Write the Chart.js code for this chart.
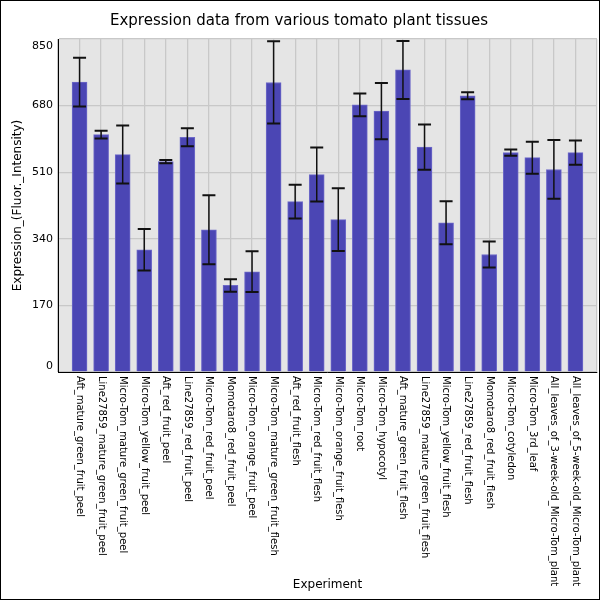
<!DOCTYPE html>
<html>
<head>
<meta charset="utf-8">
<title>Expression data from various tomato plant tissues</title>
<script src="https://cdn.jsdelivr.net/npm/chart.js@4.4.1/dist/chart.umd.min.js"></script>
<style>
    html, body { margin: 0; padding: 0; background: #fff; }
    #wrap { width: 600px; height: 600px; border: 1px solid #000; box-sizing: border-box; }
    #chart { display: block; }
</style>
</head>
<body>
<div id="wrap"><canvas id="chart" width="598" height="598"></canvas></div>
<script>
// Tomato tissue expression - bar chart with error bars

const categories = [
    'Aft_mature_green_fruit_peel',
    'Line27859_mature_green_fruit_peel',
    'Micro-Tom_mature_green_fruit_peel',
    'Micro-Tom_yellow_fruit_peel',
    'Aft_red_fruit_peel',
    'Line27859_red_fruit_peel',
    'Micro-Tom_red_fruit_peel',
    'Momotaro8_red_fruit_peel',
    'Micro-Tom_orange_fruit_peel',
    'Micro-Tom_mature_green_fruit_flesh',
    'Aft_red_fruit_flesh',
    'Micro-Tom_red_fruit_flesh',
    'Micro-Tom_orange_fruit_flesh',
    'Micro-Tom_root',
    'Micro-Tom_hypocotyl',
    'Aft_mature_green_fruit_flesh',
    'Line27859_mature_green_fruit_flesh',
    'Micro-Tom_yellow_fruit_flesh',
    'Line27859_red_fruit_flesh',
    'Momotaro8_red_fruit_flesh',
    'Micro-Tom_cotyledon',
    'Micro-Tom_3rd_leaf',
    'All_leaves_of_3-week-old_Micro-Tom_plant',
    'All_leaves_of_5-week-old_Micro-Tom_plant'
];
const expression = [740, 606, 555, 312, 537, 599, 363, 221, 256, 739, 435, 504,
                    389, 682, 666, 771, 574, 381, 705, 300, 560, 547, 517, 560];
const errors = [62, 10, 74, 53, 4, 23, 88, 16, 52, 105, 43, 69,
                80, 29, 72, 74, 58, 55, 9, 33, 8, 41, 75, 31];
const yTicks = [0, 170, 340, 510, 680, 850];

Chart.defaults.font.family = "'DejaVu Sans', sans-serif";
Chart.defaults.color = '#000';

// grey panel behind the bars
const panelBackground = {
    id: 'panelBackground',
    beforeDraw(chart) {
        const { ctx, chartArea: a } = chart;
        ctx.save();
        ctx.fillStyle = '#e5e5e5';
        ctx.fillRect(a.left, a.top, a.right - a.left, a.bottom - a.top);
        ctx.restore();
    }
};

// whiskers: mean +/- error, positioned with the chart scales
const errorBars = {
    id: 'errorBars',
    afterDatasetsDraw(chart) {
        const { ctx, scales: { x, y } } = chart;
        ctx.save();
        ctx.strokeStyle = '#111';
        expression.forEach((v, i) => {
            const px = x.getPixelForValue(i);
            const top = y.getPixelForValue(v + errors[i]);
            const bottom = y.getPixelForValue(v - errors[i]);
            ctx.lineWidth = 1.5;
            ctx.beginPath();
            ctx.moveTo(px, top);
            ctx.lineTo(px, bottom);
            ctx.stroke();
            ctx.lineWidth = 2;
            ctx.beginPath();
            ctx.moveTo(px - 6.5, top);
            ctx.lineTo(px + 6.5, top);
            ctx.moveTo(px - 6.5, bottom);
            ctx.lineTo(px + 6.5, bottom);
            ctx.stroke();
        });
        ctx.restore();
    }
};

// tick texts: category names read top to bottom, end values kept inside the panel
const axisLabels = {
    id: 'axisLabels',
    afterDraw(chart) {
        const { ctx, chartArea, scales: { x, y } } = chart;
        ctx.save();
        ctx.fillStyle = '#000';
        ctx.font = "10px 'DejaVu Sans', sans-serif";
        ctx.textAlign = 'left';
        ctx.textBaseline = 'middle';
        categories.forEach((name, i) => {
            ctx.save();
            ctx.translate(x.getPixelForValue(i), chartArea.bottom + 4);
            ctx.rotate(Math.PI / 2);
            ctx.fillText(name, 0, 0);
            ctx.restore();
        });

        ctx.font = "11px 'DejaVu Sans', sans-serif";
        ctx.textAlign = 'right';
        yTicks.forEach(v => {
            let py = y.getPixelForValue(v);
            py = Math.min(Math.max(py, chartArea.top + 7), chartArea.bottom - 6);
            ctx.fillText(String(v), chartArea.left - 5, py);
        });
        ctx.restore();
    }
};

new Chart(document.getElementById('chart'), {
    type: 'bar',
    data: {
        datasets: [{
            label: 'Expression',
            data: categories.map((c, i) => ({ x: i, y: expression[i] })),
            backgroundColor: 'rgb(75, 70, 180)',
            borderColor: 'rgb(110, 106, 200)',
            borderWidth: 1,
            barThickness: 15
        }]
    },
    options: {
        responsive: false,
        animation: false,
        layout: { padding: { left: 0, right: 2, top: 0, bottom: 0 } },
        plugins: {
            legend: { display: false },
            tooltip: { enabled: false },
            title: {
                display: true,
                text: 'Expression data from various tomato plant tissues',
                font: { size: 15, weight: 'normal' },
                color: '#000',
                padding: { top: 11, bottom: 9 }
            }
        },
        scales: {
            x: {
                type: 'linear',
                offset: false,
                min: -1,
                max: categories.length,
                afterBuildTicks: s => {
                    s.ticks = [];
                    for (let i = -1; i <= categories.length; i++) s.ticks.push({ value: i });
                },
                afterFit: s => { s.height = 227; },
                ticks: { display: false },
                grid: { offset: false, color: 'rgb(200, 200, 200)', lineWidth: 1.3, drawTicks: false },
                border: { color: '#000', width: 1 },
                title: { display: true, text: 'Experiment', font: { size: 12 }, padding: { top: 0, bottom: 7 } }
            },
            y: {
                min: 0,
                max: 850,
                afterBuildTicks: s => { s.ticks = yTicks.map(v => ({ value: v })); },
                afterFit: s => { s.width = 57; },
                ticks: { display: false },
                grid: { color: 'rgb(200, 200, 200)', lineWidth: 1.3, drawTicks: false },
                border: { color: '#000', width: 1 },
                title: { display: true, text: 'Expression_(Fluor._Intensity)', font: { size: 12 }, padding: { top: 10, bottom: 0 } }
            }
        }
    },
    plugins: [panelBackground, errorBars, axisLabels]
});
</script>
</body>
</html>
